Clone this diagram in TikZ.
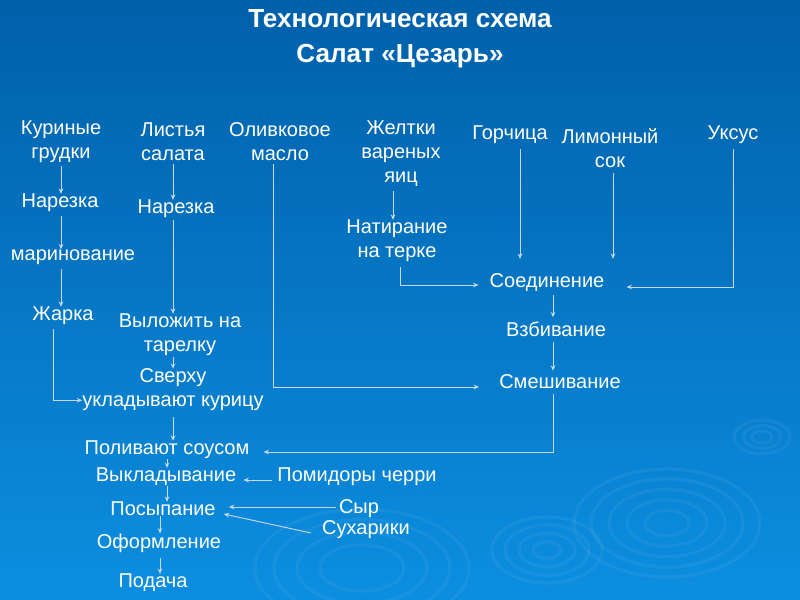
\documentclass[tikz,border=0pt]{standalone}
\usepackage{fontspec}
\setmainfont{Liberation Sans}
\usetikzlibrary{arrows.meta, positioning, calc}
\definecolor{bgtop}{RGB}{0, 96, 170}
\definecolor{bgmid}{RGB}{0, 104, 182}
\definecolor{bgbot}{RGB}{12, 142, 224}
\definecolor{linegray}{RGB}{200, 216, 236}

\begin{document}
\begin{tikzpicture}[x=0.75pt, y=-0.75pt,
  lbl/.style={text=white, font=\fontsize{15}{18}\selectfont, align=center, inner sep=0pt},
  arr/.style={draw=linegray, line width=0.7pt, -{Stealth[length=4pt, width=3.5pt]}},
  ripple/.style={draw=white, draw opacity=0.05, line width=2.4pt}]

  % Background
  \shade[top color=bgtop, middle color=bgmid, bottom color=bgbot] (0,0) rectangle (800,600);
  \useasboundingbox (0,0) rectangle (800,600);

  % Ripples
  \foreach \r in {93,76,58,40,22}
    \draw[ripple] (667,523) ellipse ({\r} and {0.58*\r});
  \foreach \r in {55,42,28,14}
    \draw[ripple] (547,550) ellipse ({\r} and {0.6*\r});
  \foreach \r in {107,88,65,42}
    \draw[ripple] (362,568) ellipse ({\r} and {0.55*\r});
  \foreach \r in {28,19,10}
    \draw[ripple] (762,437) ellipse ({\r} and {0.6*\r});

  % Title
  \node[text=white, font=\bfseries\fontsize{19.6}{26}\selectfont, align=center] (title) at (400,39)
    {Технологическая схема\\Салат «Цезарь»};

  % Raw ingredients
  \node[lbl] (kur) at (61,142) {Куриные\\грудки};
  \node[lbl] (list) at (173,142) {Листья\\салата};
  \node[lbl] (oliv) at (280,142) {Оливковое\\масло};
  \node[lbl] (zhel) at (401,154) {Желтки\\вареных\\яиц};
  \node[lbl] (gorch) at (510,135) {Горчица};
  \node[lbl] (limon) at (610,148) {Лимонный\\сок};
  \node[lbl] (uksus) at (733,135) {Уксус};

  % Chicken and lettuce
  \node[lbl] (nar1) at (60,203) {Нарезка};
  \node[lbl] (marin) at (73,257) {маринование};
  \node[lbl] (zhar) at (63,316) {Жарка};
  \node[lbl] (nar2) at (176,209) {Нарезка};
  \node[lbl] (vylo) at (180,335) {Выложить на\\тарелку};
  \node[lbl] (sver) at (173,390) {Сверху\\укладывают курицу};

  % Sauce
  \node[lbl] (natir) at (397,241) {Натирание\\на терке};
  \node[lbl] (soed) at (547,283) {Соединение};
  \node[lbl] (vzb) at (556,329) {Взбивание};
  \node[lbl] (smesh) at (560,382) {Смешивание};

  % Finishing
  \node[lbl] (poliv) at (167,450) {Поливают соусом};
  \node[lbl] (vykl) at (166,477) {Выкладывание};
  \node[lbl] (pomid) at (357,477) {Помидоры черри};
  \node[lbl] (posyp) at (163,509) {Посыпание};
  \node[lbl] (syr) at (359,509) {Сыр};
  \node[lbl] (suh) at (366,530) {Сухарики};
  \node[lbl] (oform) at (159,543) {Оформление};
  \node[lbl] (podacha) at (153,583) {Подача};

  % Chicken line
  \draw[arr] (kur.south) ++(0,3) -- (kur.south |- nar1.north);
  \draw[arr] (kur.south |- nar1.south) ++(0,4) -- (kur.south |- marin.north);
  \draw[arr] (kur.south |- marin.south) ++(0,4) -- (kur.south |- zhar.north);
  \draw[arr] ($(zhar.south)+(-10,4)$) |- ($(sver.south west)+(0,-11)$);

  % Lettuce line
  \draw[arr] (list.south) ++(0,3) -- (list.south |- nar2.north);
  \draw[arr] (list.south |- nar2.south) ++(0,2) -- (list.south |- vylo.north);
  \draw[arr] (list.south |- vylo.south) ++(0,1) -- (list.south |- sver.north);
  \draw[arr] (list.south |- sver.south) ++(0,6) -- (list.south |- poliv.north);

  % Sauce lines
  \draw[arr] ($(oliv.south)+(-7,3)$) |- ($(smesh.west)+(-20,5)$);
  \draw[arr] ($(zhel.south)+(-8,4)$) -- ($(zhel.south |- natir.north)+(-8,0)$);
  \draw[arr] ($(natir.south)+(3,5)$) |- ($(soed.west)+(-11,2)$);
  \draw[arr] ($(gorch.south)+(10,5)$) -- ($(gorch.south |- soed.north)+(10,-15)$);
  \draw[arr] ($(limon.south)+(3,5)$) -- ($(limon.south |- soed.north)+(3,-15)$);
  \draw[arr] ($(uksus.south)+(0,5)$) |- ($(soed.east)+(22,4)$);
  \draw[arr] ($(soed.south)+(6,3)$) -- ($(soed.south |- vzb.north)+(6,-4)$);
  \draw[arr] ($(vzb.south)+(-3,5)$) -- ($(vzb.south |- smesh.north)+(-3,-4)$);
  \draw[arr] ($(smesh.south)+(-7,5)$) |- ($(poliv.east)+(14,2)$);

  % Finishing lines
  \draw[arr] (poliv.south) -- (poliv.south |- vykl.north);
  \draw[arr] (poliv.south |- vykl.south) -- (poliv.south |- posyp.north);
  \draw[arr] ($(pomid.west)+(-5,3)$) -- ($(vykl.east)+(7,3)$);
  \draw[arr] ($(syr.west)+(-3,-2)$) -- ($(posyp.east)+(13,-2)$);
  \draw[arr] ($(suh.west)+(-11,3)$) -- ($(posyp.east)+(8,5)$);
  \draw[arr] ($(posyp.south)+(-3,0)$) -- ($(posyp.south |- oform.north)+(-3,0)$);
  \draw[arr] ($(posyp.south |- oform.south)+(-3,5)$) -- ($(posyp.south |- podacha.north)+(-3,0)$);
\end{tikzpicture}
\end{document}
